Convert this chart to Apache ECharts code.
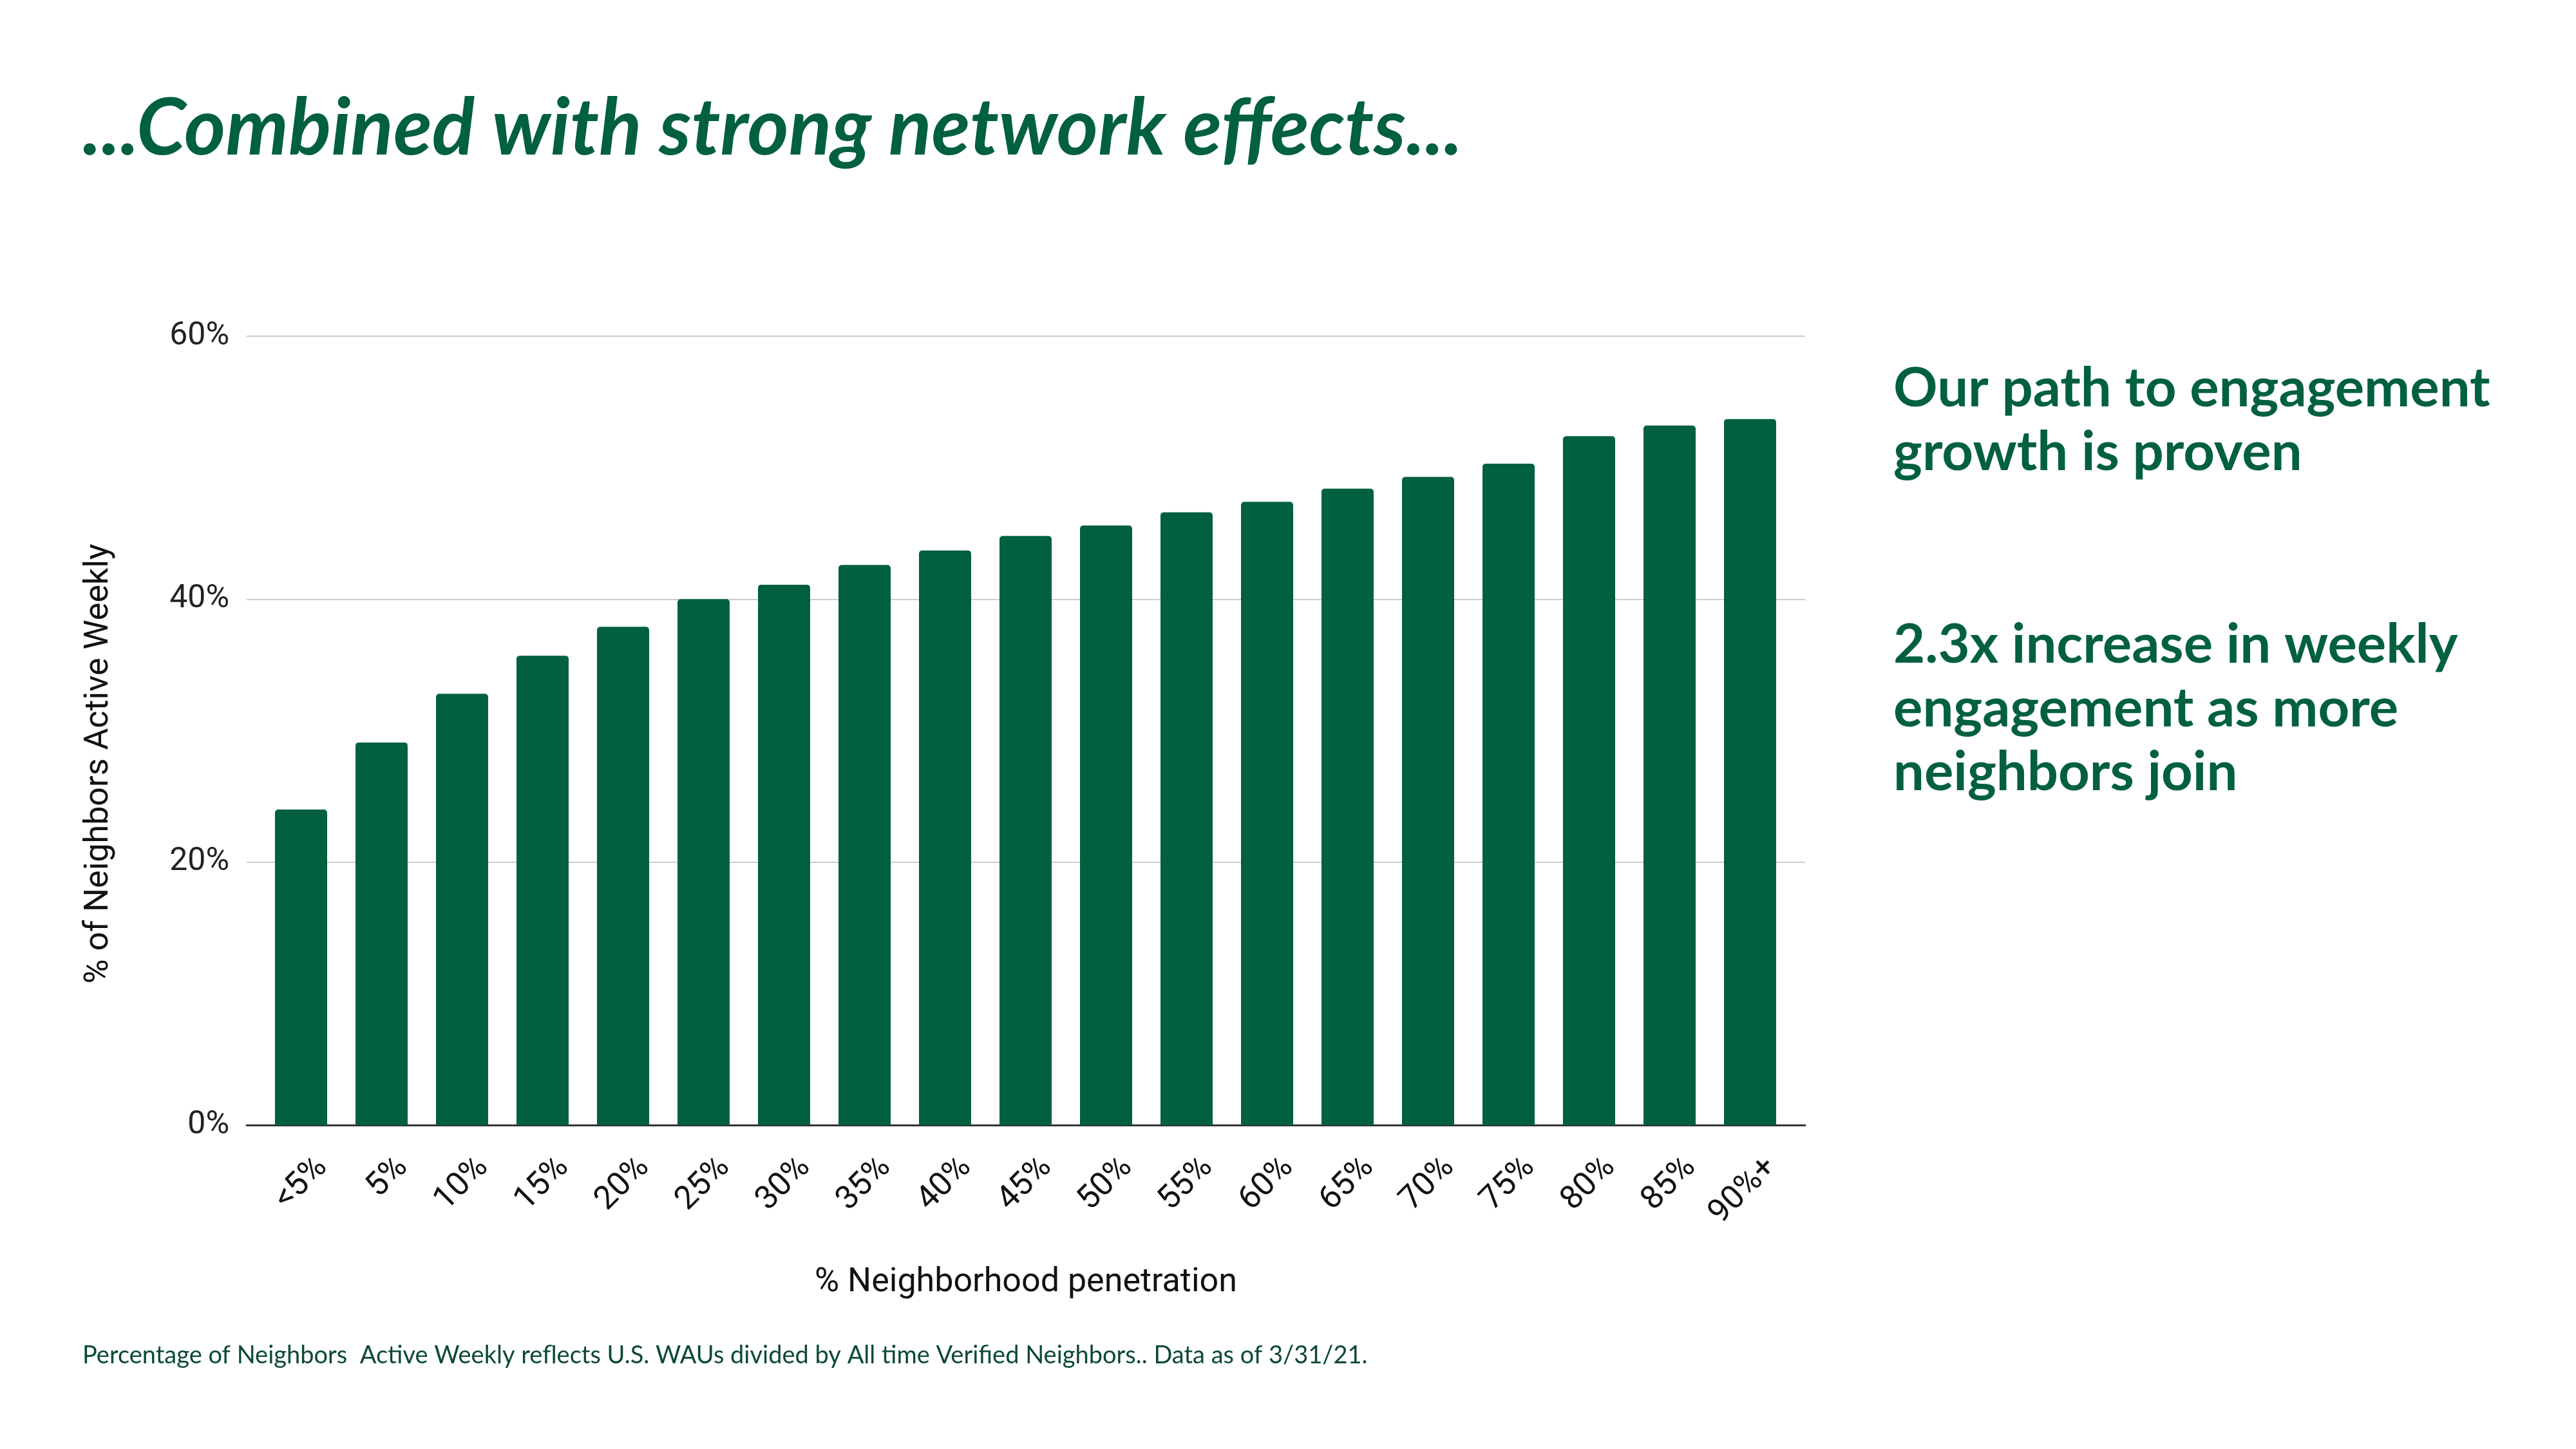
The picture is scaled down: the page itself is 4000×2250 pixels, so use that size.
<!DOCTYPE html>
<html>
<head>
<meta charset="utf-8">
<script src="https://cdn.jsdelivr.net/npm/echarts@6/dist/echarts.min.js"></script>
<style>
  html, body { margin: 0; padding: 0; background: #ffffff; }
  #chart { width: 4000px; height: 2250px; }
</style>
</head>
<body>
<div id="chart"></div>
<script>
// ---- Data ----
const categories = ['<5%', '5%', '10%', '15%', '20%', '25%', '30%', '35%', '40%', '45%',
                    '50%', '55%', '60%', '65%', '70%', '75%', '80%', '85%', '90%+'];
const activeWeekly = [24.0, 29.1, 32.8, 35.7, 37.9, 40.0, 41.1, 42.6, 43.7, 44.8,
                      45.6, 46.6, 47.4, 48.4, 49.3, 50.3, 52.4, 53.2, 53.7];
const yTicks = [0, 20, 40, 60];

const titleText = '...Combined with strong network effects...';
const sideText1 = 'Our path to engagement\ngrowth is proven';
const sideText2 = '2.3x increase in weekly\nengagement as more\nneighbors join';
const yAxisTitle = '% of Neighbors Active Weekly';
const xAxisTitle = '% Neighborhood penetration';
const footnote = 'Percentage of Neighbors  Active Weekly reflects U.S. WAUs divided by All time Verified Neighbors.. Data as of 3/31/21.';

// ---- Style ----
const GREEN = '#01603F';
const plotTop = 522, plotH = 1225;
const lineLeft = 383, lineW = 2420;
const barLeft = 405, barW = 2375;
const labelShift = 33;

const chart = echarts.init(document.getElementById('chart'), null, { renderer: 'canvas' });

chart.setOption({
  backgroundColor: '#ffffff',
  animation: false,
  grid: [
    { left: lineLeft, top: plotTop, width: lineW, height: plotH },
    { left: barLeft, top: plotTop, width: barW, height: plotH },
    { left: barLeft + labelShift, top: plotTop, width: barW, height: plotH }
  ],
  xAxis: [
    { gridIndex: 0, type: 'value', min: 0, max: 1,
      axisLine: { show: true, lineStyle: { color: '#333333', width: 3 } },
      axisTick: { show: false }, axisLabel: { show: false }, splitLine: { show: false } },
    { gridIndex: 1, type: 'category', data: categories, show: false },
    { gridIndex: 2, type: 'category', data: categories,
      axisLine: { show: false }, axisTick: { show: false },
      axisLabel: { interval: 0, rotate: 45, margin: 58, fontFamily: 'Roboto', fontSize: 51, color: '#111111' } }
  ],
  yAxis: [
    { gridIndex: 0, type: 'value', min: yTicks[0], max: yTicks[yTicks.length - 1], interval: 20,
      axisLine: { show: false }, axisTick: { show: false },
      axisLabel: { formatter: '{value}%', margin: 27, fontFamily: 'Roboto', fontSize: 50, color: '#222222' },
      splitLine: { lineStyle: { color: '#cccccc', width: 2 } } },
    { gridIndex: 1, type: 'value', min: yTicks[0], max: yTicks[yTicks.length - 1], show: false },
    { gridIndex: 2, type: 'value', min: yTicks[0], max: yTicks[yTicks.length - 1], show: false }
  ],
  series: [
    { type: 'bar', xAxisIndex: 1, yAxisIndex: 1, data: activeWeekly, barWidth: 81,
      itemStyle: { color: GREEN, borderRadius: [5, 5, 0, 0] } }
  ],
  graphic: [
    { type: 'text', left: 128, top: 139,
      style: { text: titleText, font: 'italic bold 123px Lato', fill: GREEN } },
    { type: 'text', left: 2940, top: 554,
      style: { text: sideText1, font: 'bold 85px Lato', lineHeight: 99, fill: GREEN } },
    { type: 'text', left: 2940, top: 952,
      style: { text: sideText2, font: 'bold 85px Lato', lineHeight: 99, fill: GREEN } },
    { type: 'text', x: 154, y: 1186, rotation: Math.PI / 2,
      style: { text: yAxisTitle, font: '52px Roboto', fill: '#111111', align: 'center', verticalAlign: 'middle' } },
    { type: 'text', x: 1593, y: 1992,
      style: { text: xAxisTitle, font: '52px Roboto', fill: '#111111', align: 'center', verticalAlign: 'middle' } },
    { type: 'text', left: 128, top: 2086,
      style: { text: footnote, font: '38px Lato', fill: '#0B4A30' } }
  ]
});
</script>
</body>
</html>
